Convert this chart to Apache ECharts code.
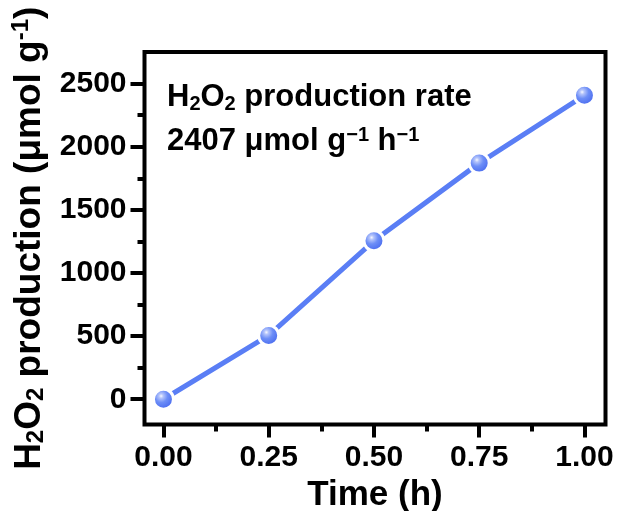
<!DOCTYPE html>
<html>
<head>
<meta charset="utf-8">
<script src="https://cdn.jsdelivr.net/npm/echarts@6/dist/echarts.min.js"></script>
<style>
  html, body { margin: 0; padding: 0; background: #fff; }
  #chart { width: 619px; height: 511px; }
</style>
</head>
<body>
<div id="chart"></div>
<script>
// Time points (h) and cumulative H2O2 produced (μmol g^-1)
const timeHours = [0, 0.25, 0.5, 0.75, 1.0];
const h2o2Amount = [0, 505, 1255, 1870, 2407];

// Tick positions
const xMajorTicks = [0, 0.25, 0.5, 0.75, 1.0];
const xMinorTicks = [0.125, 0.375, 0.625, 0.875];
const yMajorTicks = [0, 500, 1000, 1500, 2000, 2500];
const yMinorTicks = [250, 750, 1250, 1750, 2250];

const FONT = '"Liberation Sans", Arial, Helvetica, sans-serif';
const LINE_BLUE = '#5a7ef5';

const chart = echarts.init(document.getElementById('chart'), null, { renderer: 'canvas' });

const xRange = { min: -0.045, max: 1.05 };
const yRange = { min: -200, max: 2750 };

const option = {
  animation: false,
  backgroundColor: '#ffffff',
  grid: {
    left: 144.5, right: 13.5, top: 52, bottom: 86.5,
    outerBoundsMode: 'none',
    containLabel: false,
    show: true, borderColor: '#000', borderWidth: 4, backgroundColor: 'transparent'
  },
  xAxis: [
    {
      type: 'value', ...xRange,
      name: 'Time (h)',
      nameLocation: 'middle',
      nameGap: 53,
      nameTextStyle: { fontFamily: FONT, fontWeight: 'bold', fontSize: 35, color: '#000' },
      axisLine: { show: false, onZero: false },
      splitLine: { show: false },
      axisTick: { show: true, customValues: xMajorTicks, length: 13, lineStyle: { width: 4, color: '#000' } },
      axisLabel: {
        customValues: xMajorTicks,
        formatter: v => v.toFixed(2),
        margin: 18,
        fontFamily: FONT, fontWeight: 'bold', fontSize: 30, color: '#000'
      }
    },
    {
      type: 'value', ...xRange, position: 'bottom',
      axisLine: { show: false, onZero: false },
      splitLine: { show: false },
      axisTick: { show: true, customValues: xMinorTicks, length: 7, lineStyle: { width: 4, color: '#000' } },
      axisLabel: { show: false }
    }
  ],
  yAxis: [
    {
      type: 'value', ...yRange,
      name: '{b|H}{s|2}{b|O}{s|2}{b| production (μmol g}{p|-1}{b|)}',
      nameLocation: 'middle',
      nameRotate: 90,
      nameGap: 93,
      nameTextStyle: {
        rich: {
          b: { fontFamily: FONT, fontWeight: 'bold', fontSize: 37, color: '#000' },
          s: { fontFamily: FONT, fontWeight: 'bold', fontSize: 24, color: '#000', verticalAlign: 'bottom', padding: [15, 0, 0, 0] },
          p: { fontFamily: FONT, fontWeight: 'bold', fontSize: 24, color: '#000', verticalAlign: 'top', padding: [0, 0, 15, 0] }
        }
      },
      axisLine: { show: false, onZero: false },
      splitLine: { show: false },
      axisTick: { show: true, customValues: yMajorTicks, length: 14, lineStyle: { width: 4, color: '#000' } },
      axisLabel: {
        customValues: yMajorTicks,
        formatter: v => String(v),
        margin: 18,
        fontFamily: FONT, fontWeight: 'bold', fontSize: 30, color: '#000'
      }
    },
    {
      type: 'value', ...yRange, position: 'left',
      axisLine: { show: false, onZero: false },
      splitLine: { show: false },
      axisTick: { show: true, customValues: yMinorTicks, length: 7, lineStyle: { width: 4, color: '#000' } },
      axisLabel: { show: false }
    }
  ],
  series: [
    {
      type: 'line',
      data: timeHours.map((t, i) => [t, h2o2Amount[i]]),
      xAxisIndex: 0, yAxisIndex: 0,
      lineStyle: { color: LINE_BLUE, width: 5 },
      symbol: 'circle',
      symbolSize: 20,
      itemStyle: {
        color: new echarts.graphic.RadialGradient(0.4, 0.36, 0.62, [
          { offset: 0, color: '#f6f8ff' },
          { offset: 0.15, color: '#b4c4fb' },
          { offset: 0.45, color: '#6d8ef7' },
          { offset: 1, color: '#4466ee' }
        ]),
        borderColor: '#ffffff',
        borderWidth: 3
      },
      z: 5
    }
  ],
  graphic: [
    {
      type: 'text',
      left: 167, top: 82,
      style: {
        text: '{b|H}{s|2}{b|O}{s|2}{b| production rate}',
        rich: {
          b: { fontFamily: FONT, fontWeight: 'bold', fontSize: 31, fill: '#000' },
          s: { fontFamily: FONT, fontWeight: 'bold', fontSize: 20, fill: '#000', verticalAlign: 'bottom', padding: [13, 0, 0, 0] }
        }
      }
    },
    {
      type: 'text',
      left: 167, top: 125,
      style: {
        text: '{b|2407 μmol g}{p|−1}{b| h}{p|−1}',
        rich: {
          b: { fontFamily: FONT, fontWeight: 'bold', fontSize: 31, fill: '#000' },
          p: { fontFamily: FONT, fontWeight: 'bold', fontSize: 20, fill: '#000', verticalAlign: 'top', padding: [0, 0, 13, 0] }
        }
      }
    }
  ]
};

chart.setOption(option);
</script>
</body>
</html>
